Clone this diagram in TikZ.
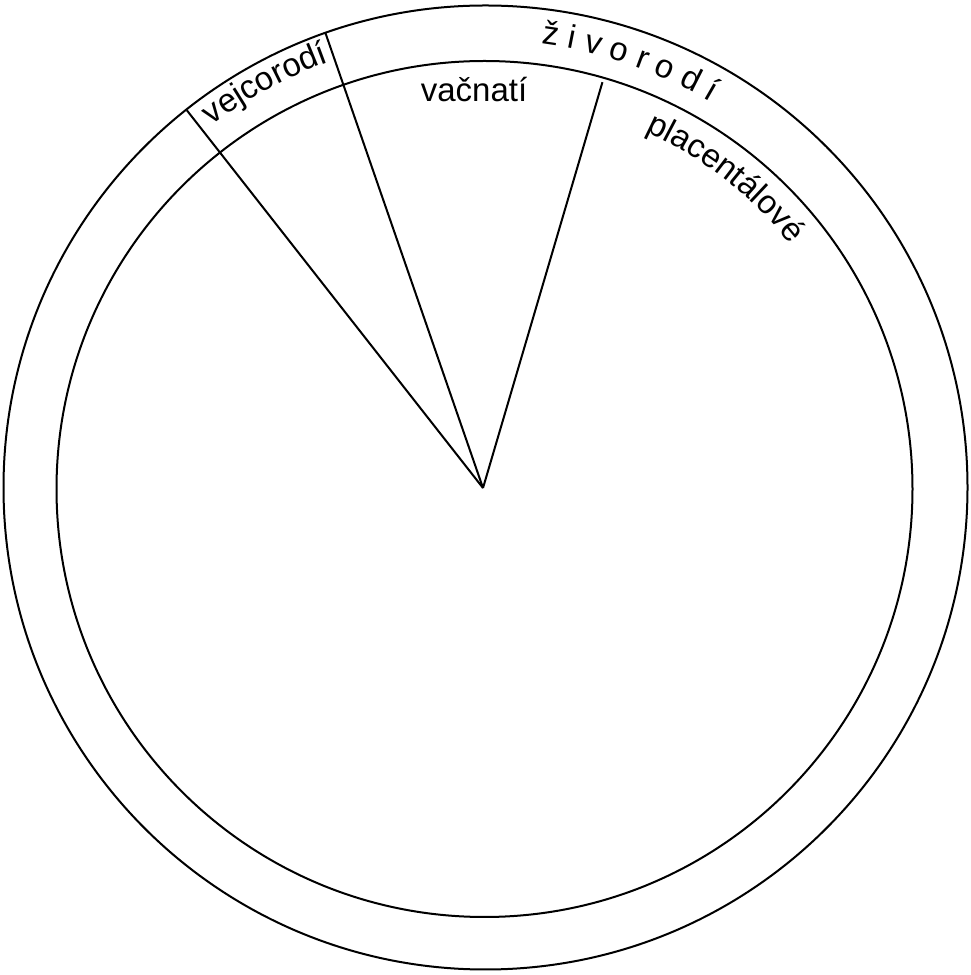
\documentclass[tikz,border=0pt]{standalone}
\usepackage{fontspec}
\setmainfont{Liberation Sans}
\usetikzlibrary{decorations.text}
\newcommand{\lblfont}{\fontsize{33}{40}\selectfont}
\tikzset{
  ring/.style={line width=2pt},
  ray/.style={line width=2pt},
  arctext/.style={decorate, decoration={text along path, text align=center, text={|\lblfont|#1}}}
}
\begin{document}
\begin{tikzpicture}[x=1pt,y=1pt]
\useasboundingbox (0,0) rectangle (970,975);
\coordinate (O) at (485.5,487.5);
\coordinate (I) at (484.5,486);
\coordinate (C) at (483,487);
\draw[ring] (O) circle[radius=482];
\draw[ring] (I) circle[radius=428];
\coordinate (a) at ([shift={(128.1:480)}]C);
\coordinate (b) at ([shift={(109.1:482)}]C);
\coordinate (c) at ([shift={(73.6:423)}]C);
\draw[ray] (C) -- (a);
\draw[ray] (C) -- (b);
\draw[ray] (C) -- (c);
\path[arctext={vejcorodí}] ([shift={(138.3:453)}]C) arc[start angle=138.3, end angle=98.3, radius=453];
\path[arctext={ž i v o r o d í}] ([shift={(96.5:448)}]C) arc[start angle=96.5, end angle=45.5, radius=448];
\path[arctext={placentálové}] ([shift={(82:392)}]C) arc[start angle=82, end angle=22, radius=392];
\node[anchor=base, font=\lblfont, inner sep=0pt] (v) at (474,873) {vačnatí};
\end{tikzpicture}
\end{document}
